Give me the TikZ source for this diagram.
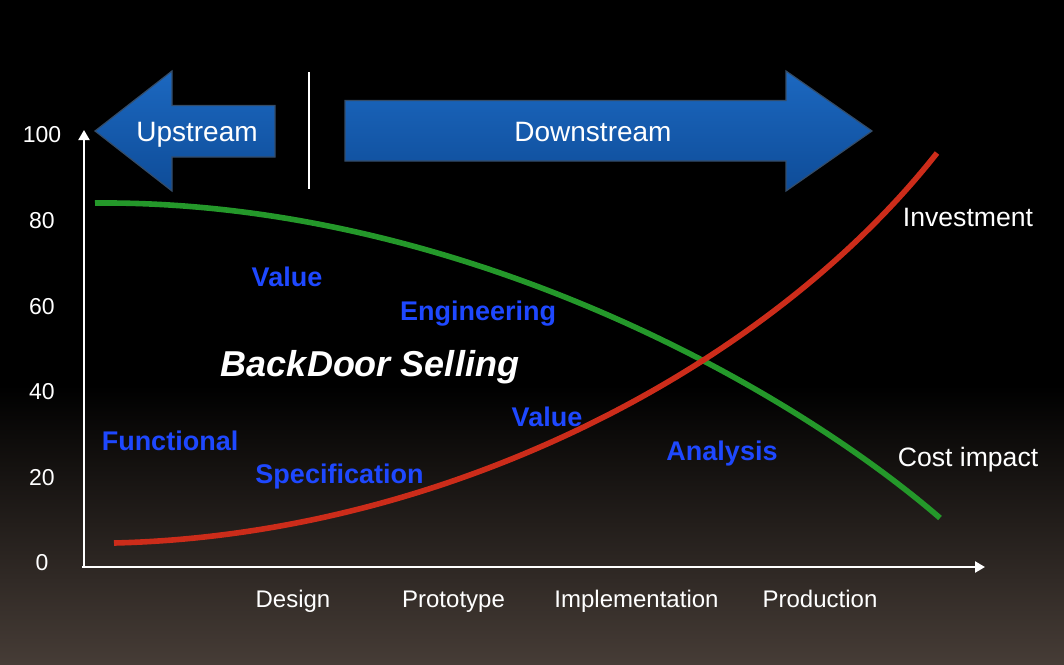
\documentclass[tikz,border=0pt]{standalone}
\usepackage{fontspec}
\setmainfont{Liberation Sans}
\usetikzlibrary{arrows.meta}
\definecolor{bgbottom}{RGB}{70,60,54}
\definecolor{arrowtop}{RGB}{28,104,192}
\definecolor{arrowbot}{RGB}{14,76,152}
\definecolor{arrowedge}{RGB}{52,76,104}
\definecolor{costgreen}{RGB}{36,152,42}
\definecolor{investred}{RGB}{204,44,26}
\definecolor{labelblue}{RGB}{30,72,255}
\pgfdeclareverticalshading{slidebg}{100bp}{color(0bp)=(bgbottom); color(25bp)=(bgbottom); color(46bp)=(black); color(100bp)=(black)}
\tikzset{
  bigarrow/.style={draw=arrowedge, line width=0.6pt, top color=arrowtop, bottom color=arrowbot},
  axis/.style={white, line width=1.2pt, -{Triangle[length=5pt,width=5.5pt]}},
  curve/.style={line width=2.8pt},
  txt/.style={white, inner sep=0pt, anchor=base},
  tick/.style={white, inner sep=0pt, font=\fontsize{11.5}{13}\selectfont},
  phase/.style={txt, font=\fontsize{12}{14}\selectfont},
  ve/.style={labelblue, inner sep=0pt, anchor=base, font=\fontsize{13.5}{16}\bfseries\selectfont}
}
\begin{document}
\begin{tikzpicture}[x=0.5pt, y=-0.5pt]
      \useasboundingbox (0,0) rectangle (1064,664);
      \shade[shading=slidebg] (0,0) rectangle (1064,664);

      \draw[bigarrow] (95,131) -- (172,71) -- (172,105.5) -- (275,105.5) -- (275,157) -- (172,157) -- (172,191) -- cycle;
      \draw[bigarrow] (345,100.5) -- (786,100.5) -- (786,71) -- (872,131) -- (786,191) -- (786,161) -- (345,161) -- cycle;
      \node[txt, font=\fontsize{14}{16}\selectfont] (up) at (197,141.5) {Upstream};
      \node[txt, font=\fontsize{14}{16}\selectfont] (down) at (593,141.5) {Downstream};
      \coordinate (sepT) at (309,72);
      \coordinate (sepB) at (309,189);
      \draw[white, line width=1pt] (sepT) -- (sepB);

      \coordinate (O) at (84,567);
      \coordinate (ytop) at (84,130);
      \coordinate (xend) at (985,567);
      \draw[axis, line width=1pt] (O) -- (ytop);
      \draw[axis] (82,567) -- (xend);

      \foreach \v/\y in {100/135, 80/220.6, 60/306.2, 40/391.8, 20/477.4, 0/563} {
        \node[tick] (t\v) at (42,\y) {\v};
      }
      \foreach \p/\x/\n in {Design/293/des, Prototype/453.5/pro, Implementation/636.5/imp, Production/820/prd} {
        \node[phase] (\n) at (\x,607) {\p};
      }

      \draw[costgreen, curve] (95,203) .. controls (450,200) and (780,380) .. (940,518);
      \draw[investred, curve] (114,543) .. controls (450,535) and (770,365) .. (937,153);
      \node[txt, font=\fontsize{13.3}{16}\selectfont] (inv) at (968,226) {Investment};
      \node[txt, font=\fontsize{13.3}{16}\selectfont] (cost) at (968,466) {Cost impact};

      \node[ve] (val1) at (287,286.5) {Value};
      \node[ve] (eng) at (478,320) {Engineering};
      \node[txt, font=\fontsize{18}{20}\bfseries\itshape\selectfont] (bds) at (370,376) {BackDoor Selling};
      \node[ve] (val2) at (547,426.5) {Value};
      \node[ve] (fun) at (170,450) {Functional};
      \node[ve] (spec) at (339.5,483) {Specification};
      \node[ve] (ana) at (722,460) {Analysis};
\end{tikzpicture}
\end{document}
